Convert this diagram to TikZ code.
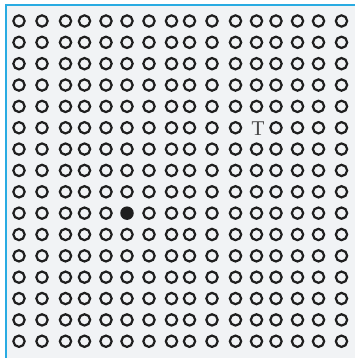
\documentclass[tikz,border=0pt]{standalone}
\usepackage{fontspec}
\setmainfont{Liberation Serif}
\definecolor{frameblue}{HTML}{29ABE2}
\definecolor{bggray}{HTML}{F1F3F5}
\definecolor{ringcol}{HTML}{1E1E1E}
\definecolor{tgray}{HTML}{4A4A4A}
\begin{document}
\begin{tikzpicture}[x=1pt,y=-1pt,
  ring/.style={circle,draw=ringcol,line width=2.2pt,inner sep=0pt,minimum size=11.3pt},
  dot/.style={circle,fill=ringcol,inner sep=0pt,minimum size=13.5pt},
  letter/.style={inner sep=0pt,text=tgray,font=\fontsize{21}{21}\selectfont}]
\fill[white] (0,0) rectangle (355,358);
\useasboundingbox (0,0) rectangle (355,358);
\fill[bggray] (5.5,5.5) rectangle (355,358);
\draw[frameblue,line width=2pt] (5.5,358) -- (5.5,5.5) -- (355,5.5);
\foreach \xx [count=\j] in {19,42,65.5,84.5,106,127,149,171.5,189.5,212,235.5,256.5,276,297.5,318.5,341.5}{
  \foreach \i in {1,...,16}{
    \pgfmathsetmacro\yy{21+21.35*(\i-1)}
    \ifnum\i=6 \ifnum\j=12
      \node[letter] (c-\i-\j) at (\xx+1.5,\yy+0.8) {T};
    \else
      \node[ring] (c-\i-\j) at (\xx,\yy) {};
    \fi
    \else\ifnum\i=10 \ifnum\j=6
      \node[dot] (c-\i-\j) at (\xx,\yy) {};
    \else
      \node[ring] (c-\i-\j) at (\xx,\yy) {};
    \fi
    \else
      \node[ring] (c-\i-\j) at (\xx,\yy) {};
    \fi\fi
  }
}
\end{tikzpicture}
\end{document}
